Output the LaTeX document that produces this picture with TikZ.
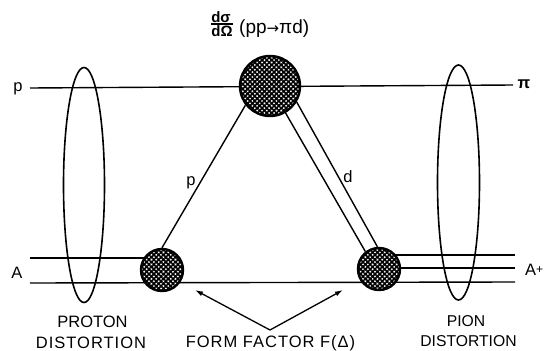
\documentclass[tikz,border=0pt]{standalone}
\usepackage{fontspec}
\setmainfont{Liberation Sans}
\newfontfamily\widefont[LetterSpace=6]{Liberation Sans}
\newfontfamily\arrowfont{DejaVu Sans}
\usetikzlibrary{patterns.meta,backgrounds,arrows.meta,calc}
\begin{document}
\begin{tikzpicture}[x=1pt,y=-1pt,
  ln/.style={line width=1.4pt},
  lensline/.style={line width=1.6pt},
  blob/.style={circle, inner sep=0pt, line width=2.4pt, draw=black,
    preaction={fill=white},
    preaction={pattern={Lines[angle=45,distance=3.4pt,line width=1.7pt]}},
    preaction={pattern={Lines[angle=-45,distance=3.4pt,line width=1.7pt]}}},
  lbl/.style={inner sep=0pt, font=\fontsize{16.5}{18}\selectfont},
  rlbl/.style={inner sep=0pt, font=\fontsize{15.7}{18}\selectfont},
  fr/.style={inner sep=0pt, font=\fontsize{15}{16}\selectfont\bfseries},
  tip/.style={line width=1.3pt, {Latex[length=8pt,width=5pt]}-{Latex[length=8pt,width=5pt]}}
]
\useasboundingbox (0,0) rectangle (547,351);

% blobs
\node[blob, minimum size=60pt] (top) at (270,86) {};
\node[blob, minimum size=42pt] (lb) at (162,270) {};
\node[blob, minimum size=42pt] (rb) at (379,269) {};

% free ends
\coordinate (pL) at (30,88);
\coordinate (pR) at (513,85);
\coordinate (aL1) at (30,258);
\coordinate (aL2) at (30,283);
\coordinate (aR2) at (515,282);
\coordinate (aR0) at (515,255);
\coordinate (aR1) at (515,268);
\coordinate (apex) at (270,330);
\coordinate (ffL) at (195,290);
\coordinate (ffR) at (343,290);

\begin{scope}[on background layer]
  \draw[ln] (pL) -- (pR);
  \draw[ln] (aL1) -- (aL1 -| lb.center);
  \draw[ln] (aL2) -- (aR2);
  \draw[ln] (aR0) -- (aR0 -| rb.center);
  \draw[ln] (aR1) -- (aR1 -| rb.center);
  \draw[ln] (top.218) -- (lb.90);
  \draw[ln] (top.-60) -- (rb.128);
  \draw[ln] (top.-31) -- (rb.94);
\end{scope}

% lenses
\draw[lensline] (84,185) ellipse [x radius=20.5, y radius=117.5];
\draw[lensline] (458.5,182.5) ellipse [x radius=21, y radius=117.5];

% form factor arrows
\draw[tip] (ffL) -- (apex) -- (ffR);

% labels
\node[lbl, anchor=base] (plbl) at (18,91.5) {p};
\node[lbl, anchor=base] (pilbl) at (524,88.5) {\bfseries π};
\node[lbl, anchor=base] (albl) at (17,278.3) {A};
\node[lbl, anchor=base west] (aplbl) at (525,275) {A\raisebox{1.5pt}{\fontsize{12}{12}\selectfont +}};
\node[lbl, anchor=base] (pdiag) at (191,185) {p};
\node[lbl, anchor=base] (dlbl) at (348,182.3) {d};
\node[lbl, anchor=base] (pro) at (92.5,327.5) {PROTON};
\node[lbl, anchor=base] (dis1) at (91,348) {\widefont DISTORTION};
\node[rlbl, anchor=base] (pion) at (466,326.7) {PION};
\node[rlbl, anchor=base] (dis2) at (468.5,346.7) {DISTORTION};
\node[inner sep=0pt, anchor=base, font=\fontsize{16.5}{18}\selectfont\widefont] (ff) at (270.5,347.5) {FORM FACTOR F(Δ)};

% title
\node[fr, anchor=base] (num) at (221,22.3) {dσ};
\node[fr, anchor=base] (den) at (222,36.5) {dΩ};
\draw[line width=1.6pt] ([yshift=1.4pt]den.north west) -- ([yshift=1.4pt]den.north east);
\node[inner sep=0pt, anchor=base west, font=\fontsize{19}{20}\selectfont] (xs) at (239,33.5) {(pp{\arrowfont\fontsize{15}{15}\selectfont →}πd)};
\end{tikzpicture}
\end{document}
